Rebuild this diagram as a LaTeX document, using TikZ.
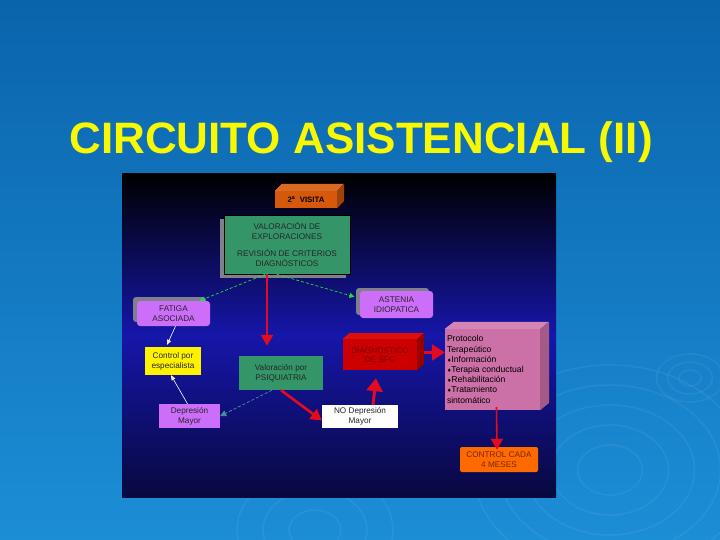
\documentclass[tikz,border=0pt]{standalone}
\usepackage{fontspec}
\setmainfont{Liberation Sans}
\newfontfamily\dej{DejaVu Sans}
\usetikzlibrary{arrows.meta}
\definecolor{bgtop}{RGB}{10,100,172}
\definecolor{bgbot}{RGB}{28,142,214}
\definecolor{pnavy}{RGB}{8,8,64}
\definecolor{pblue}{RGB}{22,22,170}
\definecolor{vorange}{RGB}{214,88,10}
\definecolor{corange}{RGB}{255,106,0}
\definecolor{mgreen}{RGB}{52,150,104}
\definecolor{mpurple}{RGB}{204,110,250}
\definecolor{mpink}{RGB}{204,112,168}
\definecolor{mred}{RGB}{204,0,0}
\definecolor{sfcred}{RGB}{220,14,14}
\definecolor{shgrey}{RGB}{128,128,140}
\definecolor{ttl}{RGB}{248,248,0}
\definecolor{arrred}{RGB}{230,10,30}
\definecolor{arrgreen}{RGB}{40,220,60}
\definecolor{arrteal}{RGB}{70,150,150}
\tikzset{
  fbox/.style={inner sep=0pt, align=center, text=black!85,
    font=\fontsize{8.2}{9.8}\selectfont},
  shadowbox/.style={fill=shgrey},
  redarrow/.style={draw=arrred, line width=2.6pt, -{Triangle[length=11pt,width=12pt]}},
  bigred/.style={draw=arrred, line width=3pt, -{Triangle[length=13pt,width=16pt]}},
  greendash/.style={draw=arrgreen, densely dashed, line width=0.7pt, -{Triangle[length=5pt,width=5pt]}},
  thinline/.style={draw=white, line width=0.6pt, -{Triangle[length=5pt,width=4pt,fill=yellow]}},
  tealdash/.style={draw=arrteal, densely dashed, line width=0.7pt, -{Triangle[length=6pt,width=6pt]}},
  ripple/.style={draw=white, opacity=0.06, line width=1.6pt},
}
\begin{document}
\begin{tikzpicture}[x=1pt,y=-1pt]
\useasboundingbox (0,0) rectangle (720,540);
% background
\shade[top color=bgtop, bottom color=bgbot] (0,0) rectangle (720,540);
% ripples
\foreach \r in {8,16,24} {\draw[ripple] (690,378) ellipse ({\r*1.4} and \r);}
\foreach \r in {25,45,65,85,105} {\draw[ripple] (610,470) ellipse ({\r*1.3} and \r);}
\foreach \r in {20,40,60} {\draw[ripple] (315,530) ellipse ({\r*1.3} and \r);}
% title
\node[text=ttl, font=\fontsize{44}{50}\bfseries] (title) at (361,142) {CIRCUITO ASISTENCIAL (II)};
% panel
\shade[top color=black, bottom color=pnavy, middle color=pblue] (122,174) rectangle (556,497);

% 2a VISITA (3D)
\node[fbox, fill=vorange, minimum width=62pt, minimum height=17pt, text=black, font=\fontsize{7.8}{9}\bfseries\selectfont] (visita) at (306,199.5) {2\textsuperscript{a}\ \ VISITA};
\fill[vorange!75!black] (visita.north east) -- ++(7,-7) -- ++(0,17) -- (visita.south east) -- cycle;
\fill[vorange!90!white] (visita.north west) -- ++(7,-7) -- ++(62,0) -- (visita.north east) -- cycle;

% VALORACION
\fill[shadowbox] (220,219) rectangle (346,278);
\node[fbox, fill=mgreen, draw=black, line width=0.8pt, minimum width=126pt, minimum height=59pt] (valor) at (287,244.5)
  {VALORACIÓN DE\\EXPLORACIONES\\[7pt]REVISIÓN DE CRITERIOS\\DIAGNÓSTICOS};

% FATIGA
\fill[shadowbox, rounded corners=3pt] (133,297) rectangle (206,322);
\node[fbox, fill=mpurple, rounded corners=3pt, minimum width=73pt, minimum height=25pt] (fatiga) at (173.5,313.5) {FATIGA\\ASOCIADA};

% ASTENIA
\fill[shadowbox, rounded corners=3pt] (356,288) rectangle (429,315);
\node[fbox, fill=mpurple, rounded corners=3pt, minimum width=73pt, minimum height=27pt] (astenia) at (396.5,304.5) {ASTENIA\\IDIOPATICA};

% Control por especialista
\node[fbox, fill=yellow, minimum width=56pt, minimum height=28pt] (control) at (173,361) {Control por\\especialista};

% Valoracion por psiquiatria
\node[fbox, fill=mgreen, minimum width=84pt, minimum height=34pt] (psiq) at (281,373) {Valoración por\\PSIQUIATRIA};

% Depresion Mayor
\node[fbox, fill=mpurple, minimum width=61pt, minimum height=24pt] (depre) at (189.5,416) {Depresión\\Mayor};

% NO Depresion Mayor
\node[fbox, fill=white, minimum width=76pt, minimum height=23pt] (nodep) at (360,416.5) {NO Depresión\\Mayor};

% DIAGNOSTICO DE SFC (3D)
\node[fbox, fill=mred, minimum width=74pt, minimum height=31pt, text={rgb,255:red,120;green,0;blue,0}] (diag) at (380,354.5) {DIAGNÓSTICO\\DE SFC};
\fill[mred!75!black] (diag.north east) -- ++(7,-6) -- ++(0,31) -- (diag.south east) -- cycle;
\fill[sfcred] (diag.north west) -- ++(7,-6) -- ++(74,0) -- (diag.north east) -- cycle;

% Protocolo (3D)
\node[fbox, fill=mpink, minimum width=95pt, minimum height=81pt, align=left, text=black, font=\fontsize{8.6}{10.2}\selectfont] (proto) at (492.5,369.5)
  {\parbox{91pt}{Protocolo\\Terapeútico\\{\dej\fontsize{5}{6}\selectfont\char"2666}Información\\{\dej\fontsize{5}{6}\selectfont\char"2666}Terapia conductual\\{\dej\fontsize{5}{6}\selectfont\char"2666}Rehabilitación\\{\dej\fontsize{5}{6}\selectfont\char"2666}Tratamiento\\sintomático}};
\fill[mpink!80!black] (proto.north east) -- ++(9,-7) -- ++(0,81) -- (proto.south east) -- cycle;
\fill[mpink!85!white] (proto.north west) -- ++(9,-7) -- ++(95,0) -- (proto.north east) -- cycle;

% CONTROL CADA 4 MESES
\node[fbox, fill=corange, rounded corners=2pt, minimum width=78pt, minimum height=25pt, text={rgb,255:red,120;green,40;blue,0}] (cuatro) at (499,459.5) {CONTROL CADA\\4 MESES};

% connectors
\draw[greendash] ([xshift=-22pt]valor.south) -- ([xshift=26pt]fatiga.north);
\draw[greendash] ([xshift=-10pt]valor.south) -- ([xshift=-42pt,yshift=-6pt]astenia.north);
\draw[redarrow] ([xshift=-20pt]valor.south) -- ([xshift=-14pt,yshift=10pt]psiq.north);
\draw[thinline] ([xshift=2pt]fatiga.south) -- ([xshift=-6pt,yshift=2pt]control.north);
\draw[thinline] ([xshift=-2pt]depre.north) -- ([xshift=-2pt]control.south);
\draw[tealdash] ([xshift=-9pt]psiq.south) -- (depre.east);
\draw[redarrow] (psiq.south) -- ([yshift=-4pt]nodep.west);
\draw[bigred] ([xshift=13pt]nodep.north) -- ([xshift=-4pt,yshift=-8pt]diag.south);
\draw[bigred] ([xshift=7pt,yshift=2pt]diag.east) -- ([yshift=17pt]proto.west);
\draw[redarrow, line width=1.6pt] ([xshift=4pt,yshift=3pt]proto.south) -- ([xshift=-2pt,yshift=-3pt]cuatro.north);
\end{tikzpicture}
\end{document}
